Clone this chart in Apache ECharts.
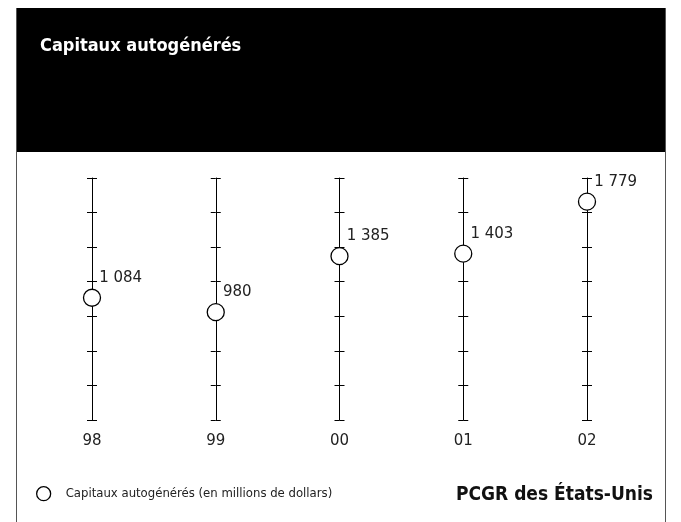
<!DOCTYPE html>
<html>
<head>
<meta charset="utf-8">
<script src="https://cdn.jsdelivr.net/npm/echarts@6/dist/echarts.min.js"></script>
<style>
	html, body { margin: 0; padding: 0; background: #fff; }
	#chart { width: 681px; height: 522px; }
</style>
</head>
<body>
<div id="chart"></div>
<script>
// 数据
var categories = ['98', '99', '00', '01', '02'];
var values = [1084, 980, 1385, 1403, 1779];
var axisMin = 200, axisMax = 1950, axisStep = 250;
var seriesName = 'Capitaux autogénérés (en millions de dollars)';

var narrow = "'Liberation Sans Narrow', 'DejaVu Sans Condensed', sans-serif";
var plain = "'DejaVu Sans', sans-serif";

// 千位空格
function fmt(v) {
	return String(v).replace(/\B(?=(\d{3})+(?!\d))/g, ' ');
}

var chart = echarts.init(document.getElementById('chart'));

var grids = [], xAxes = [], yAxes = [], series = [];
for (var i = 0; i < categories.length; i++) {
	var x = 92 + i * 123.75;
	grids.push({ left: x, top: 178, width: 10, height: 242 });
	xAxes.push({ gridIndex: i, type: 'value', min: 0, max: 1, show: false });
	// 左侧刻度 + 轴线 + 类别名
	yAxes.push({
		gridIndex: i, type: 'value', position: 'left',
		min: axisMin, max: axisMax, interval: axisStep,
		name: categories[i], nameLocation: 'start', nameGap: 14,
		nameTextStyle: { color: '#222', fontSize: 15, fontFamily: plain, align: 'center', verticalAlign: 'top' },
		axisLine: { show: true, lineStyle: { color: '#000', width: 1 } },
		axisTick: { show: true, inside: false, length: 5, lineStyle: { color: '#000' } },
		axisLabel: { show: false },
		splitLine: { show: false }
	});
	// 右侧刻度
	yAxes.push({
		gridIndex: i, type: 'value', position: 'left',
		min: axisMin, max: axisMax, interval: axisStep,
		axisLine: { show: false },
		axisTick: { show: true, inside: true, length: 5, lineStyle: { color: '#000' } },
		axisLabel: { show: false },
		splitLine: { show: false }
	});
	series.push({
		name: seriesName,
		type: 'scatter',
		xAxisIndex: i,
		yAxisIndex: i * 2,
		symbol: 'circle',
		symbolSize: 17,
		itemStyle: { color: '#fff', borderColor: '#000', borderWidth: 1.3, opacity: 1 },
		label: {
			show: true, position: 'right', distance: 0, offset: [-2, -20],
			color: '#222', fontSize: 15, fontFamily: plain,
			formatter: function(p) { return fmt(p.value[1]); }
		},
		data: [[0, values[i]]],
		z: 5
	});
}

var option = {
	animation: false,
	backgroundColor: '#fff',
	title: [{
		text: 'Capitaux autogénérés',
		left: 35, top: 32,
		textStyle: { color: '#fff', fontSize: 18, fontWeight: 'bold', fontFamily: narrow }
	}, {
		text: 'PCGR des États-Unis',
		right: 23, top: 481,
		textStyle: { color: '#111', fontSize: 19, fontWeight: 'bold', fontFamily: narrow }
	}],
	legend: {
		left: 31, top: 481,
		itemWidth: 34, itemHeight: 14,
		data: [{
			name: seriesName, icon: 'circle',
			itemStyle: { color: '#fff', borderColor: '#000', borderWidth: 1.3 }
		}],
		textStyle: { color: '#222', fontSize: 13, fontFamily: narrow }
	},
	graphic: [
		{ type: 'rect', z: -10, shape: { x: 16, y: 8, width: 650, height: 144 }, style: { fill: '#000' } },
		{ type: 'line', z: -10, shape: { x1: 16.5, y1: 8, x2: 16.5, y2: 522 }, style: { stroke: '#555', lineWidth: 1 } },
		{ type: 'line', z: -10, shape: { x1: 665.5, y1: 8, x2: 665.5, y2: 522 }, style: { stroke: '#555', lineWidth: 1 } }
	],
	grid: grids,
	xAxis: xAxes,
	yAxis: yAxes,
	series: series
};

chart.setOption(option);
window.onresize = function() {
	chart.resize();
};
</script>
</body>
</html>
